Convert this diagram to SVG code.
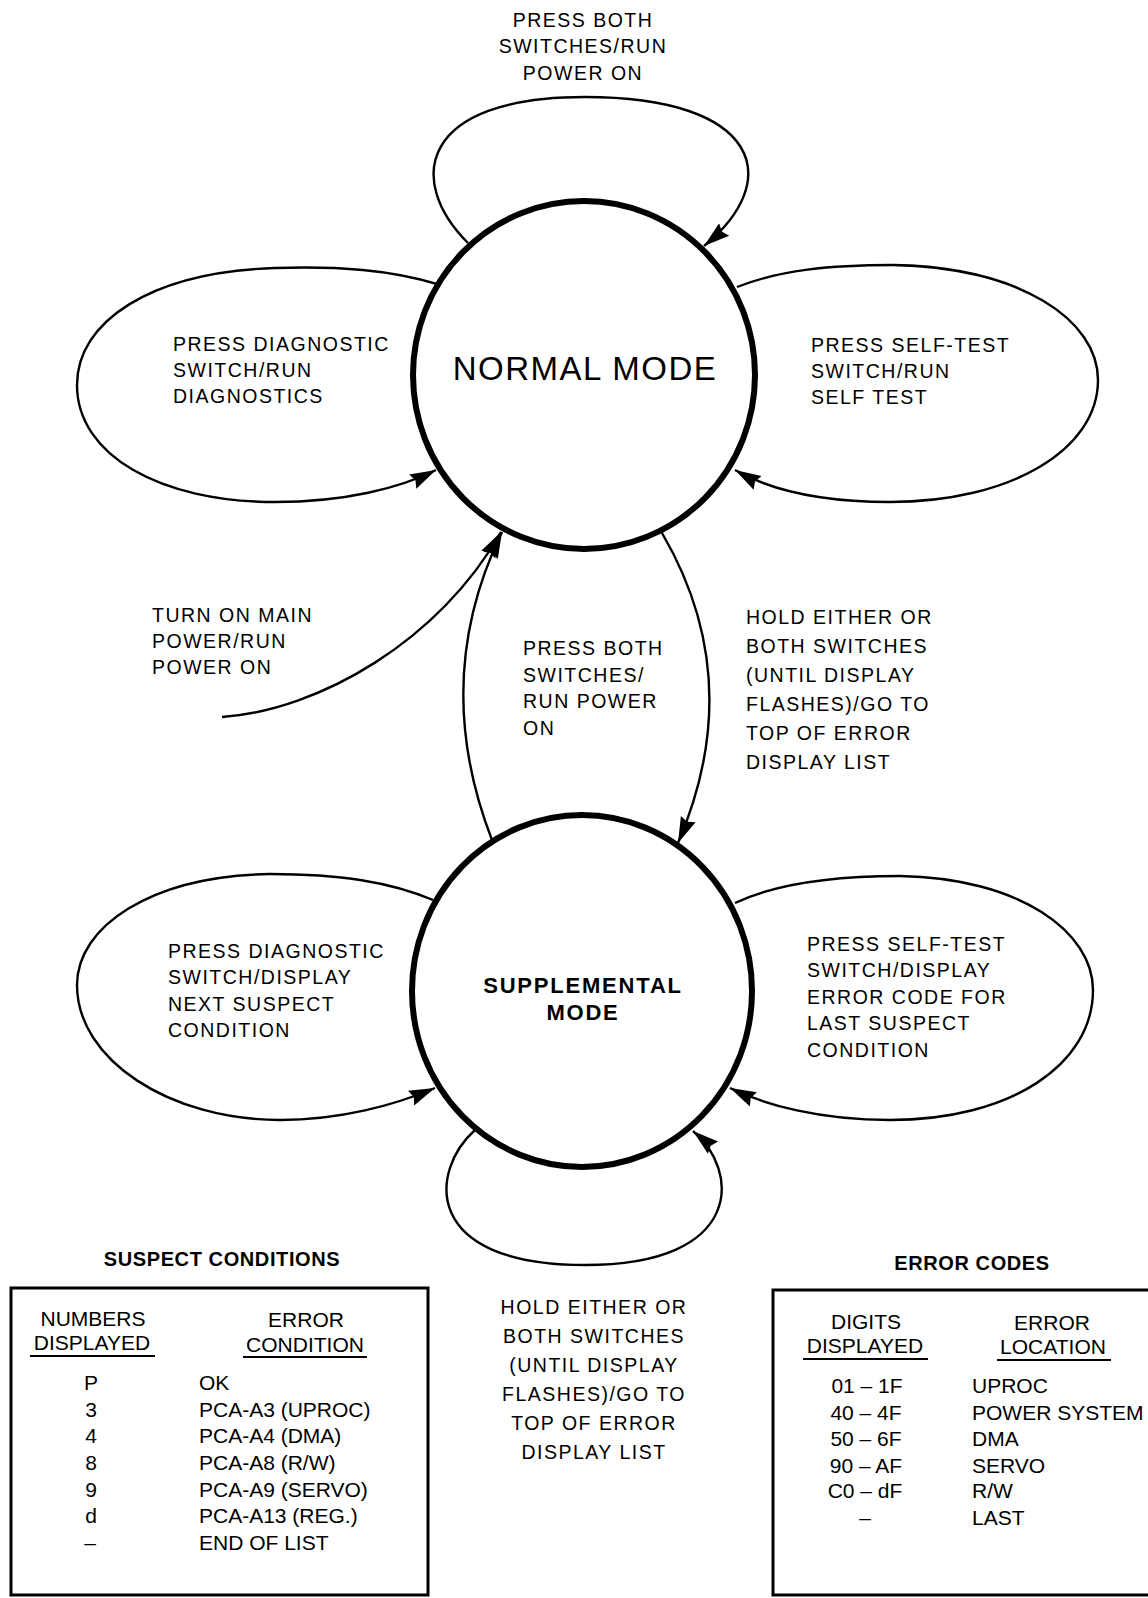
<svg xmlns="http://www.w3.org/2000/svg" width="1148" height="1598" viewBox="0 0 1148 1598">
<defs>
<marker id="arr" markerUnits="userSpaceOnUse" markerWidth="28" markerHeight="18" refX="26" refY="9" orient="auto"><path d="M0,1 L26,9 L0,17 L3,9 z" fill="#000"/></marker>
</defs>
<style>
.t{font-family:"Liberation Sans",Arial,sans-serif;font-size:19.5px;letter-spacing:1.5px;fill:#000}
.big{font-family:"Liberation Sans",Arial,sans-serif;font-size:33px;letter-spacing:1.5px;fill:#000}
.bold{font-family:"Liberation Sans",Arial,sans-serif;font-size:22px;font-weight:bold;letter-spacing:1.8px;fill:#000}
.ttl{font-family:"Liberation Sans",Arial,sans-serif;font-size:20px;font-weight:bold;letter-spacing:0.6px;fill:#000}
.tab{font-family:"Liberation Sans",Arial,sans-serif;font-size:21px;fill:#000}
.m{text-anchor:middle}
.c{fill:none;stroke:#000;stroke-width:2.4}
.a{marker-end:url(#arr)}
.node{fill:#fff;stroke:#000;stroke-width:6}
.box{fill:none;stroke:#000;stroke-width:3}
.ul{stroke:#000;stroke-width:1.8}
</style>
<rect width="1148" height="1598" fill="#fff"/>

<g id="connectors">
<path class="c a" d="M468 243 C405 180 420 97 585 97 C760 97 785 180 704 246"/>
<path class="c a" d="M437 284 C390 270 340 266 275 268 C150 272 77 322 77 385 C77 455 160 502 275 502 C345 502 400 488 436 470"/>
<path class="c a" d="M737 287 C780 270 830 265 893 265 C1020 267 1098 320 1098 380 C1098 450 1010 502 890 502 C820 502 770 490 735 470"/>
<path class="c a" d="M222 717 C320 710 440 640 501 532"/>
<path class="c a" d="M492 840 Q430 680 502 532"/>
<path class="c a" d="M662 533 Q748 680 678 843"/>
<path class="c a" d="M433 900 C390 882 340 874 270 874 C150 876 77 927 77 985 C77 1060 170 1120 280 1120 C340 1120 395 1105 435 1088"/>
<path class="c a" d="M735 903 C775 884 830 876 900 876 C1020 878 1093 932 1093 990 C1093 1065 1010 1120 890 1120 C820 1120 765 1105 730 1088"/>
<path class="c a" d="M475 1130 C430 1170 420 1265 585 1265 C745 1265 740 1170 693 1131"/>
</g>

<g id="node-normal">
<ellipse class="node" cx="584" cy="375" rx="171" ry="174"/>
<text class="big m" x="585" y="380">NORMAL MODE</text>
</g>

<g id="node-supplemental">
<ellipse class="node" cx="582" cy="991" rx="170" ry="176"/>
<text class="bold m" x="583" y="993">SUPPLEMENTAL</text>
<text class="bold m" x="583" y="1020">MODE</text>
</g>

<g id="labels">
<text class="t m" x="583" y="27">PRESS BOTH</text>
<text class="t m" x="583" y="53">SWITCHES/RUN</text>
<text class="t m" x="583" y="80">POWER ON</text>

<text class="t" x="173" y="351">PRESS DIAGNOSTIC</text>
<text class="t" x="173" y="377">SWITCH/RUN</text>
<text class="t" x="173" y="403">DIAGNOSTICS</text>

<text class="t" x="811" y="352">PRESS SELF-TEST</text>
<text class="t" x="811" y="378">SWITCH/RUN</text>
<text class="t" x="811" y="404">SELF TEST</text>

<text class="t" x="152" y="622">TURN ON MAIN</text>
<text class="t" x="152" y="648">POWER/RUN</text>
<text class="t" x="152" y="674">POWER ON</text>

<text class="t" x="523" y="655">PRESS BOTH</text>
<text class="t" x="523" y="682">SWITCHES/</text>
<text class="t" x="523" y="708">RUN POWER</text>
<text class="t" x="523" y="735">ON</text>

<text class="t" x="746" y="624">HOLD EITHER OR</text>
<text class="t" x="746" y="653">BOTH SWITCHES</text>
<text class="t" x="746" y="682">(UNTIL DISPLAY</text>
<text class="t" x="746" y="711">FLASHES)/GO TO</text>
<text class="t" x="746" y="740">TOP OF ERROR</text>
<text class="t" x="746" y="769">DISPLAY LIST</text>

<text class="t" x="168" y="958">PRESS DIAGNOSTIC</text>
<text class="t" x="168" y="984">SWITCH/DISPLAY</text>
<text class="t" x="168" y="1011">NEXT SUSPECT</text>
<text class="t" x="168" y="1037">CONDITION</text>

<text class="t" x="807" y="951">PRESS SELF-TEST</text>
<text class="t" x="807" y="977">SWITCH/DISPLAY</text>
<text class="t" x="807" y="1004">ERROR CODE FOR</text>
<text class="t" x="807" y="1030">LAST SUSPECT</text>
<text class="t" x="807" y="1057">CONDITION</text>

<text class="t m" x="594" y="1314">HOLD EITHER OR</text>
<text class="t m" x="594" y="1343">BOTH SWITCHES</text>
<text class="t m" x="594" y="1372">(UNTIL DISPLAY</text>
<text class="t m" x="594" y="1401">FLASHES)/GO TO</text>
<text class="t m" x="594" y="1430">TOP OF ERROR</text>
<text class="t m" x="594" y="1459">DISPLAY LIST</text>
</g>

<g id="table-suspect">
<text class="ttl m" x="222" y="1266">SUSPECT CONDITIONS</text>
<path class="box" d="M11 1288 H428 V1595 H11 Z"/>
<text class="tab m" x="93" y="1326">NUMBERS</text>
<text class="tab m" x="92" y="1350">DISPLAYED</text>
<line class="ul" x1="30" y1="1356" x2="155" y2="1356"/>
<text class="tab m" x="306" y="1327">ERROR</text>
<text class="tab m" x="305" y="1352">CONDITION</text>
<line class="ul" x1="243" y1="1357" x2="367" y2="1357"/>
<text class="tab m" x="91" y="1390">P</text>
<text class="tab m" x="91" y="1417">3</text>
<text class="tab m" x="91" y="1443">4</text>
<text class="tab m" x="91" y="1470">8</text>
<text class="tab m" x="91" y="1497">9</text>
<text class="tab m" x="91" y="1523">d</text>
<text class="tab m" x="90" y="1550">–</text>
<text class="tab" x="199" y="1390">OK</text>
<text class="tab" x="199" y="1417">PCA-A3 (UPROC)</text>
<text class="tab" x="199" y="1443">PCA-A4 (DMA)</text>
<text class="tab" x="199" y="1470">PCA-A8 (R/W)</text>
<text class="tab" x="199" y="1497">PCA-A9 (SERVO)</text>
<text class="tab" x="199" y="1523">PCA-A13 (REG.)</text>
<text class="tab" x="199" y="1550">END OF LIST</text>
</g>

<g id="table-error">
<text class="ttl m" x="972" y="1270">ERROR CODES</text>
<path class="box" d="M1150 1290 H773 V1595 H1150"/>
<text class="tab m" x="866" y="1329">DIGITS</text>
<text class="tab m" x="865" y="1353">DISPLAYED</text>
<line class="ul" x1="803" y1="1359" x2="928" y2="1359"/>
<text class="tab m" x="1052" y="1330">ERROR</text>
<text class="tab m" x="1053" y="1354">LOCATION</text>
<line class="ul" x1="997" y1="1360" x2="1111" y2="1360"/>
<text class="tab m" x="867" y="1393">01 – 1F</text>
<text class="tab m" x="866" y="1420">40 – 4F</text>
<text class="tab m" x="866" y="1446">50 – 6F</text>
<text class="tab m" x="866" y="1473">90 – AF</text>
<text class="tab m" x="865" y="1498">C0 – dF</text>
<text class="tab m" x="865" y="1525">–</text>
<text class="tab" x="972" y="1393">UPROC</text>
<text class="tab" x="972" y="1420">POWER SYSTEM</text>
<text class="tab" x="972" y="1446">DMA</text>
<text class="tab" x="972" y="1473">SERVO</text>
<text class="tab" x="972" y="1498">R/W</text>
<text class="tab" x="972" y="1525">LAST</text>
</g>
</svg>
